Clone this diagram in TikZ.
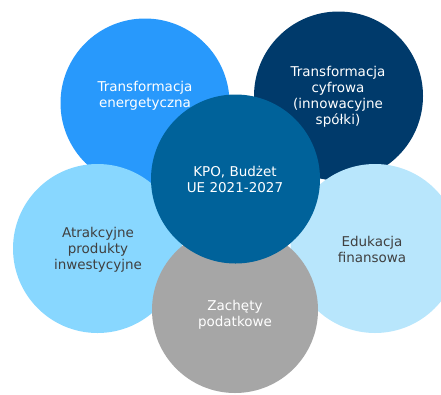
\documentclass[tikz,border=0pt]{standalone}
\usepackage{fontspec}
\setmainfont{DejaVu Sans}
\definecolor{cA}{RGB}{40,153,252}
\definecolor{cB}{RGB}{0,58,107}
\definecolor{cC}{RGB}{0,98,154}
\definecolor{cD}{RGB}{136,215,255}
\definecolor{cE}{RGB}{184,230,252}
\definecolor{cF}{RGB}{166,166,166}
\definecolor{txtdark}{RGB}{64,64,64}
\tikzset{
  bubble/.style={circle, draw=none, minimum size=169pt, inner sep=0pt},
  lbl/.style={align=center, font=\fontsize{13.5}{16}\selectfont, inner sep=0pt}
}
\begin{document}
\begin{tikzpicture}[x=1pt,y=-1pt]
\useasboundingbox (0,0) rectangle (441,394);
\node[bubble, fill=cA] (tl) at (145,103) {};
\node[bubble, fill=cB] (tr) at (338.5,96) {};
\node[bubble, fill=cD] (l) at (97.5,248.5) {};
\node[bubble, fill=cE] (r) at (375,248.5) {};
\node[bubble, fill=cF, minimum size=166pt] (b) at (235,310) {};
\node[bubble, fill=cC] (c) at (235.5,179) {};
\node[lbl, text=white] (ttl) at (145,96) {Transformacja\\energetyczna};
\node[lbl, text=white] (ttr) at (338,96.5) {Transformacja\\cyfrowa\\(innowacyjne\\spółki)};
\node[lbl, text=white] (tc) at (235,179.5) {KPO, Budżet\\UE 2021-2027};
\node[lbl, text=txtdark] (tlft) at (98,249.5) {Atrakcyjne\\produkty\\inwestycyjne};
\node[lbl, text=txtdark] (trt) at (372,249.5) {Edukacja\\finansowa};
\node[lbl, text=white] (tb) at (235,314.5) {Zachęty\\podatkowe};
\end{tikzpicture}
\end{document}
